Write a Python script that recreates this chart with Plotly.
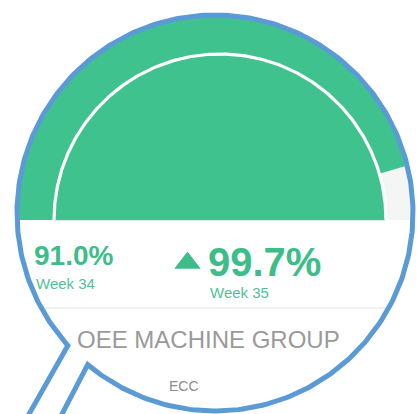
import numpy as np
import plotly.graph_objects as go

# ---- data ----
gauge_value = 91.0
gauge_min = 0.0
gauge_max = 100.0
prev_value = 91.0
prev_label = "Week 34"
curr_value = 99.7
curr_label = "Week 35"
title_text = "OEE MACHINE GROUP"
subtitle_text = "ECC"

# ---- styling / geometry ----
W, H = 417, 414
GREEN = "#40C28E"
TEXT_GREEN = "#3DBD89"
WEEK_GREEN = "#55BE98"
TRACK = "#F4F5F5"
BLUE = "#5B9BD5"

gx, gy = 220.0, 220.0      # gauge centre
ring_r = 166.0             # white ring radius
cx, cy, R = 215.0, 213.0, 198.0   # magnifier circle


def ray_hit(theta):
    """distance from gauge centre along angle theta to the magnifier circle"""
    u = np.array([np.cos(theta), -np.sin(theta)])
    d = np.array([gx - cx, gy - cy])
    b = d @ u
    c = d @ d - R * R
    return -b + np.sqrt(b * b - c)


def outer_pts(t0, t1, n=200):
    th = np.linspace(t0, t1, n)
    t = np.array([ray_hit(a) for a in th])
    return gx + t * np.cos(th), gy - t * np.sin(th)


def val_to_theta(v):
    return np.pi * (1 - (v - gauge_min) / (gauge_max - gauge_min))


fig = go.Figure()

# full green half (clipped by magnifier)
ox, oy = outer_pts(np.pi, 0)
fig.add_trace(go.Scatter(x=list(ox) + [ox[0]], y=list(oy) + [oy[0]], fill="toself",
                         fillcolor=GREEN, line=dict(width=0), mode="lines", hoverinfo="skip"))

# remaining track wedge (outer band only)
tv = val_to_theta(gauge_value)
wx, wy = outer_pts(tv, 0)
ath = np.linspace(0, tv, 60)
ix = gx + ring_r * np.cos(ath)
iy = gy - ring_r * np.sin(ath)
fig.add_trace(go.Scatter(x=list(wx) + list(ix), y=list(wy) + list(iy), fill="toself",
                         fillcolor=TRACK, line=dict(width=0), mode="lines", hoverinfo="skip"))

# white ring
rth = np.linspace(np.pi, 0, 300)
fig.add_trace(go.Scatter(x=gx + ring_r * np.cos(rth), y=gy - ring_r * np.sin(rth),
                         mode="lines", line=dict(color="white", width=3.2), hoverinfo="skip"))

# faint baseline
fig.add_trace(go.Scatter(x=[gx - ring_r, gx + ring_r], y=[gy + 0.5, gy + 0.5], mode="lines",
                         line=dict(color="#D6F1E6", width=1), hoverinfo="skip"))

# separator
fig.add_trace(go.Scatter(x=[40, 393], y=[308, 308], mode="lines",
                         line=dict(color="#E4E4E4", width=1.2), hoverinfo="skip"))

# up triangle
fig.add_trace(go.Scatter(x=[187.5], y=[263], mode="markers",
                         marker=dict(symbol="triangle-up", size=23, color=TEXT_GREEN,
                                     line=dict(width=0)), hoverinfo="skip"))

# magnifier outline with handle
a1 = np.deg2rad(138.0)
a2 = np.deg2rad(130.0 + 360.0)
arc = np.linspace(a1, a2, 400)
mx = cx + R * np.cos(arc)
my = cy + R * np.sin(arc)
hd = np.deg2rad(119.5)
L = 90
p1 = (mx[0] + L * np.cos(hd), my[0] + L * np.sin(hd))
p2 = (mx[-1] + L * np.cos(hd + np.deg2rad(-2)), my[-1] + L * np.sin(hd + np.deg2rad(-2)))
fig.add_trace(go.Scatter(x=[p1[0]] + list(mx) + [p2[0]], y=[p1[1]] + list(my) + [p2[1]],
                         mode="lines", line=dict(color=BLUE, width=5), hoverinfo="skip"))

FONT = "Liberation Sans, Arial, sans-serif"
ann = [
    dict(x=32, y=255, text=f"<b>{prev_value:.1f}%</b>", xanchor="left", yanchor="middle",
         font=dict(size=28, color=TEXT_GREEN, family=FONT)),
    dict(x=34, y=283, text=prev_label, xanchor="left", yanchor="middle",
         font=dict(size=15, color=WEEK_GREEN, family=FONT)),
    dict(x=206, y=262, text=f"<b>{curr_value:.1f}%</b>", xanchor="left", yanchor="middle",
         font=dict(size=40, color=TEXT_GREEN, family=FONT)),
    dict(x=239, y=292, text=curr_label, xanchor="center", yanchor="middle",
         font=dict(size=15, color=WEEK_GREEN, family=FONT)),
    dict(x=208, y=339, text=title_text, xanchor="center", yanchor="middle",
         font=dict(size=24, color="#9A9A9A", family=FONT)),
    dict(x=184, y=386, text=subtitle_text, xanchor="center", yanchor="middle",
         font=dict(size=14, color="#8C8C8C", family=FONT)),
]
for a in ann:
    a.update(xref="x", yref="y", showarrow=False)

fig.update_layout(
    width=W, height=H, autosize=False,
    margin=dict(l=0, r=0, t=0, b=0),
    paper_bgcolor="white", plot_bgcolor="white",
    showlegend=False,
    xaxis=dict(range=[0, W], visible=False, fixedrange=True),
    yaxis=dict(range=[H, 0], visible=False, fixedrange=True),
    annotations=ann,
)

fig.write_html("out.html", config={"displayModeBar": False},
               post_script="document.body.style.margin='0';document.body.style.overflow='hidden';")
